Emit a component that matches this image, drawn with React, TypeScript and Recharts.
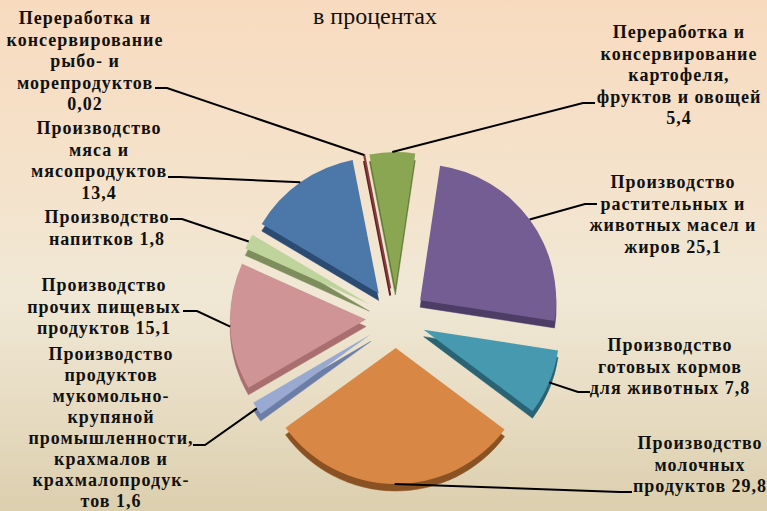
import { PieChart, Pie, Cell, Sector } from 'recharts';

// sectors clockwise from about 11 o'clock
const categories = [
  'Переработка и консервирование картофеля, фруктов и овощей',
  'Производство растительных и животных масел и жиров',
  'Производство готовых кормов для животных',
  'Производство молочных продуктов',
  'Производство продуктов мукомольно-крупяной промышленности, крахмалов и крахмалопродуктов',
  'Производство прочих пищевых продуктов',
  'Производство напитков',
  'Производство мяса и мясопродуктов',
  'Переработка и консервирование рыбо- и морепродуктов',
];
const shares = [5.4, 25.1, 7.8, 29.8, 1.6, 15.1, 1.8, 13.4, 0.02];

const labelLines = [
  ['Переработка и', 'консервирование', 'картофеля,', 'фруктов и овощей', '5,4'],
  ['Производство', 'растительных и', 'животных масел и', 'жиров 25,1'],
  ['Производство', 'готовых кормов', 'для животных 7,8'],
  ['Производство', 'молочных', 'продуктов 29,8'],
  ['Производство', 'продуктов', 'мукомольно-', 'крупяной', 'промышленности,', 'крахмалов и', 'крахмалопродук-', 'тов 1,6'],
  ['Производство', 'прочих пищевых', 'продуктов 15,1'],
  ['Производство', 'напитков 1,8'],
  ['Производство', 'мяса и', 'мясопродуктов', '13,4'],
  ['Переработка и', 'консервирование', 'рыбо- и', 'морепродуктов', '0,02'],
];

const topColors = ['#8aa653', '#735d92', '#4699ae', '#d98745', '#98aad2', '#cf9496', '#bfd39c', '#4b77a9', '#8c3b3b'];
const sideColors = ['#627a38', '#4d3d66', '#2a6474', '#8a5122', '#6c7ea6', '#a86e70', '#7d8e5c', '#2c4b72', '#5a2222'];

// label placement: text centre, first baseline, line spacing, leader elbow, tail direction
const labelLayout = [
  { x: 679, y: 38, lh: 21.5, ex: 583, ey: 103, hook: 12 },
  { x: 673, y: 188, lh: 21.5, ex: 585, ey: 204, hook: 12 },
  { x: 670, y: 351, lh: 21.5, ex: 578, ey: 392, hook: 12 },
  { x: 700, y: 449, lh: 21.5, ex: 620, ey: 492, hook: 12 },
  { x: 111, y: 360, lh: 21, ex: 205, ey: 445, hook: -12 },
  { x: 104, y: 291, lh: 21.5, ex: 197, ey: 311, hook: -14 },
  { x: 107, y: 223, lh: 21.5, ex: 182, ey: 219, hook: -12 },
  { x: 99, y: 134, lh: 21.5, ex: 180, ey: 177, hook: -12 },
  { x: 85, y: 24, lh: 21.5, ex: 167, ey: 88, hook: -12 },
];

const EXPLODE = 30;
const DEPTH = 7;
const RAD = Math.PI / 180;
const SERIF = "'Times New Roman', 'Liberation Serif', serif";

const tableData = categories.map((name, i) => ({ name, value: shares[i] }));

const ExplodedSector = (props: any) => {
  const { cx, cy, innerRadius, outerRadius, startAngle, endAngle, midAngle, index } = props;
  const i = index ?? categories.indexOf(props.name ?? props.payload?.name);
  const dx = EXPLODE * Math.cos(-midAngle * RAD);
  const dy = EXPLODE * Math.sin(-midAngle * RAD);
  const thin = shares[i] < 0.5;
  return (
    <g>
      <Sector
        cx={cx + dx}
        cy={cy + dy + DEPTH}
        innerRadius={innerRadius}
        outerRadius={outerRadius}
        startAngle={startAngle}
        endAngle={endAngle}
        fill={sideColors[i]}
        stroke={sideColors[i]}
        strokeWidth={thin ? 2 : 0.5}
      />
      <Sector
        cx={cx + dx}
        cy={cy + dy}
        innerRadius={innerRadius}
        outerRadius={outerRadius}
        startAngle={startAngle}
        endAngle={endAngle}
        fill={topColors[i]}
        stroke={thin ? topColors[i] : 'none'}
        strokeWidth={thin ? 2 : 0}
      />
    </g>
  );
};

const renderLabel = (props: any) => {
  const { cx, cy, midAngle, outerRadius, index } = props;
  const lay = labelLayout[index];
  const r = outerRadius + EXPLODE;
  const sx = cx + r * Math.cos(-midAngle * RAD);
  const sy = cy + r * Math.sin(-midAngle * RAD);
  return (
    <g key={`lbl-${index}`}>
      <polyline
        points={`${sx},${sy} ${lay.ex},${lay.ey} ${lay.ex + lay.hook},${lay.ey}`}
        fill="none"
        stroke="#000"
        strokeWidth={2}
      />
      <text
        x={lay.x}
        y={lay.y}
        textAnchor="middle"
        fontFamily={SERIF}
        fontWeight="bold"
        fontSize={18}
        letterSpacing={1}
        fill="#111"
      >
        {labelLines[index].map((line, j) => (
          <tspan key={j} x={lay.x} dy={j === 0 ? 0 : lay.lh}>
            {line}
          </tspan>
        ))}
      </text>
    </g>
  );
};

export default function App() {
  return (
    <div
      style={{
        position: 'absolute',
        left: 0,
        top: 0,
        width: 767,
        height: 511,
        overflow: 'hidden',
        background: 'linear-gradient(to bottom, #f8dbbf 0%, #f5e1c9 30%, #f0e8d5 58%, #e8ddc4 78%, #dccfae 100%)',
      }}
    >
      <div
        style={{
          position: 'absolute',
          left: 0,
          width: 750,
          top: 3,
          textAlign: 'center',
          fontFamily: SERIF,
          fontSize: 24,
          color: '#111',
        }}
      >
        в процентах
      </div>
      <PieChart width={767} height={511} margin={{ top: 0, right: 0, bottom: 0, left: 0 }}>
        <Pie
          data={tableData}
          dataKey="value"
          nameKey="name"
          cx={396}
          cy={318}
          outerRadius={136}
          startAngle={101}
          endAngle={-259}
          stroke="none"
          shape={ExplodedSector}
          label={renderLabel}
          labelLine={false}
          isAnimationActive={false}
        >
          {tableData.map((d, i) => (
            <Cell key={d.name} fill={topColors[i]} />
          ))}
        </Pie>
      </PieChart>
    </div>
  );
}
